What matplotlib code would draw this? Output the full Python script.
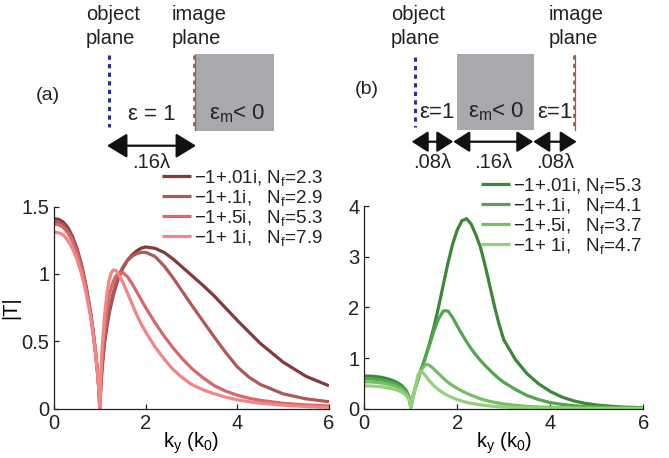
import matplotlib
matplotlib.use("Agg")
import matplotlib.pyplot as plt
from matplotlib.patches import Rectangle

plt.rcParams['font.family'] = ['Liberation Sans', 'DejaVu Sans']
plt.rcParams['mathtext.fontset'] = 'custom'
plt.rcParams['mathtext.rm'] = 'Liberation Sans'
plt.rcParams['mathtext.it'] = 'Liberation Sans:italic'
plt.rcParams['mathtext.bf'] = 'Liberation Sans:bold'

# ---------------- data ----------------
ky_a = [0, 0.1, 0.2, 0.3, 0.4, 0.5, 0.6, 0.7, 0.8, 0.85, 0.9, 0.95, 0.98, 1.0,
        1.02, 1.05, 1.1, 1.15, 1.2, 1.25, 1.3, 1.35, 1.4, 1.5, 1.6, 1.7, 1.8, 1.9,
        2.0, 2.2, 2.4, 2.6, 2.8, 3.0, 3.25, 3.5, 3.75, 4.0, 4.25, 4.5, 5.0, 5.5, 6.0]
T_a_001 = [1.41, 1.405, 1.385, 1.345, 1.28, 1.19, 1.07, 0.91, 0.71, 0.585, 0.44, 0.27, 0.14, 0.0,
           0.15, 0.30, 0.48, 0.60, 0.70, 0.78, 0.85, 0.91, 0.96, 1.04, 1.10, 1.14, 1.17, 1.19,
           1.20, 1.19, 1.16, 1.11, 1.05, 0.99, 0.915, 0.835, 0.745, 0.655, 0.57, 0.485,
           0.345, 0.24, 0.17]
T_a_01 = [1.39, 1.385, 1.365, 1.325, 1.265, 1.175, 1.055, 0.90, 0.705, 0.58, 0.44, 0.27, 0.14, 0.0,
          0.16, 0.32, 0.50, 0.62, 0.72, 0.80, 0.87, 0.93, 0.98, 1.05, 1.10, 1.13, 1.15, 1.16,
          1.16, 1.13, 1.06, 0.97, 0.87, 0.77, 0.65, 0.53, 0.415, 0.31, 0.235, 0.18,
          0.11, 0.073, 0.052]
T_a_05 = [1.37, 1.365, 1.345, 1.305, 1.245, 1.16, 1.045, 0.89, 0.70, 0.575, 0.435, 0.27, 0.14, 0.0,
          0.20, 0.38, 0.58, 0.72, 0.83, 0.90, 0.95, 0.985, 1.00, 1.01, 0.98, 0.93, 0.87, 0.81,
          0.75, 0.64, 0.54, 0.45, 0.37, 0.30, 0.23, 0.17, 0.13, 0.10, 0.078, 0.062,
          0.04, 0.028, 0.02]
T_a_1 = [1.31, 1.305, 1.29, 1.25, 1.19, 1.11, 1.00, 0.86, 0.68, 0.56, 0.43, 0.26, 0.14, 0.0,
         0.25, 0.45, 0.68, 0.84, 0.95, 1.01, 1.03, 1.025, 1.00, 0.94, 0.86, 0.78, 0.70, 0.63,
         0.57, 0.46, 0.37, 0.29, 0.23, 0.18, 0.14, 0.11, 0.085, 0.066, 0.052, 0.041,
         0.026, 0.016, 0.01]

ky_b = [0, 0.1, 0.2, 0.3, 0.4, 0.5, 0.6, 0.7, 0.8, 0.9, 0.95, 0.98, 1.0,
        1.02, 1.05, 1.1, 1.15, 1.2, 1.25, 1.3, 1.35, 1.4, 1.5, 1.6, 1.7, 1.8, 1.9,
        2.0, 2.1, 2.2, 2.3, 2.4, 2.5, 2.6, 2.7, 2.8, 2.9, 3.0, 3.25, 3.5, 3.75,
        4.0, 4.25, 4.5, 4.75, 5.0, 5.5, 6.0]
T_b_001 = [0.645, 0.643, 0.638, 0.628, 0.612, 0.59, 0.56, 0.52, 0.46, 0.36, 0.26, 0.15, 0.03,
           0.12, 0.25, 0.42, 0.57, 0.72, 0.84, 0.98, 1.13, 1.28, 1.62, 2.02, 2.45, 2.88, 3.25,
           3.53, 3.71, 3.75, 3.64, 3.43, 3.18, 2.82, 2.42, 2.02, 1.66, 1.36, 0.97, 0.69, 0.49,
           0.34, 0.23, 0.155, 0.105, 0.072, 0.035, 0.02]
T_b_01 = [0.59, 0.588, 0.583, 0.574, 0.56, 0.54, 0.513, 0.477, 0.425, 0.335, 0.245, 0.145, 0.03,
          0.12, 0.25, 0.42, 0.57, 0.72, 0.84, 0.97, 1.11, 1.25, 1.54, 1.78, 1.93, 1.93, 1.80,
          1.63, 1.47, 1.32, 1.18, 1.06, 0.95, 0.85, 0.76, 0.67, 0.59, 0.52, 0.38, 0.26, 0.18,
          0.12, 0.085, 0.06, 0.043, 0.033, 0.02, 0.015]
T_b_05 = [0.53, 0.528, 0.524, 0.516, 0.503, 0.486, 0.462, 0.43, 0.385, 0.305, 0.225, 0.135, 0.03,
          0.12, 0.25, 0.42, 0.58, 0.71, 0.80, 0.86, 0.875, 0.86, 0.78, 0.69, 0.60, 0.52, 0.455,
          0.40, 0.35, 0.305, 0.265, 0.23, 0.195, 0.17, 0.145, 0.125, 0.108, 0.093, 0.065, 0.045, 0.033,
          0.025, 0.019, 0.015, 0.012, 0.01, 0.008, 0.006]
T_b_1 = [0.45, 0.449, 0.445, 0.438, 0.428, 0.414, 0.394, 0.368, 0.33, 0.265, 0.20, 0.125, 0.03,
         0.12, 0.25, 0.42, 0.65, 0.74, 0.72, 0.67, 0.61, 0.55, 0.45, 0.37, 0.31, 0.26, 0.215,
         0.18, 0.15, 0.125, 0.105, 0.09, 0.075, 0.063, 0.053, 0.045, 0.038, 0.032, 0.022, 0.015, 0.011,
         0.008, 0.007, 0.006, 0.0055, 0.005, 0.004, 0.003]

labels_a = ["\u22121+.01i, N$_\\mathregular{f}$=2.3",
            "\u22121+.1i,   N$_\\mathregular{f}$=2.9",
            "\u22121+.5i,   N$_\\mathregular{f}$=5.3",
            "\u22121+ 1i,   N$_\\mathregular{f}$=7.9"]
labels_b = ["\u22121+.01i, N$_\\mathregular{f}$=5.3",
            "\u22121+.1i,   N$_\\mathregular{f}$=4.1",
            "\u22121+.5i,   N$_\\mathregular{f}$=3.7",
            "\u22121+ 1i,   N$_\\mathregular{f}$=4.7"]
colors_a = ["#86393A", "#B05858", "#D86868", "#F38585"]
colors_b = ["#3A883A", "#52A64E", "#74BF62", "#94D27A"]

xticks = [0, 2, 4, 6]
yticks_a = [0, 0.5, 1, 1.5]
yticks_a_lbl = ["0", "0.5", "1", "1.5"]
yticks_b = [0, 1, 2, 3, 4]

# ---------------- figure ----------------
W, H = 669, 458
fig = plt.figure(figsize=(W / 100, H / 100), dpi=100)

def fx(px):
    return px / W

def fy(py):
    return 1 - py / H

axA = fig.add_axes([fx(54), fy(408.7), fx(329) - fx(54), fy(206.5) - fy(408.7)])
axB = fig.add_axes([fx(364.3), fy(408.7), fx(643.3) - fx(364.3), fy(206) - fy(408.7)])

def style(ax):
    for s in ['top', 'right']:
        ax.spines[s].set_visible(False)
    for s in ['left', 'bottom']:
        ax.spines[s].set_linewidth(0.9)
        ax.spines[s].set_color('#222222')
    ax.tick_params(direction='in', length=3.5, width=0.9, labelsize=14.5,
                   colors='#222222', pad=3.5)
    ax.set_xlim(0, 6)
    ax.set_xticks(xticks)
    ax.set_xticklabels([str(t) for t in xticks])
    ax.patch.set_visible(False)

lw = 2.3
for T, c, lab in zip([T_a_001, T_a_01, T_a_05, T_a_1], colors_a, labels_a):
    axA.plot(ky_a, T, color=c, lw=lw, label=lab, solid_capstyle='butt',
             solid_joinstyle='round')
for T, c, lab in zip([T_b_001, T_b_01, T_b_05, T_b_1], colors_b, labels_b):
    axB.plot(ky_b, T, color=c, lw=lw, label=lab, solid_capstyle='butt',
             solid_joinstyle='round')

style(axA)
style(axB)
axA.set_ylim(0, 1.5)
axA.set_yticks(yticks_a)
axA.set_yticklabels(yticks_a_lbl)
axB.set_ylim(0, 4)
axB.set_yticks(yticks_b)
axB.set_yticklabels([str(t) for t in yticks_b])

xl = "k$_\\mathregular{y}$ (k$_\\mathregular{0}$)"
axA.set_xlabel(xl, fontsize=14.5, labelpad=-1.5)
axB.set_xlabel(xl, fontsize=14.5, labelpad=-1.5)
axA.set_ylabel("|T|", fontsize=14.5, labelpad=1)

leg_kw = dict(frameon=False, fontsize=13.5, handlelength=1.55, handletextpad=0.15,
              labelspacing=0.0, borderpad=0, borderaxespad=0, loc='upper left')
legA = axA.legend(bbox_to_anchor=(fx(162), fy(168)), bbox_transform=fig.transFigure, **leg_kw)
legB = axB.legend(bbox_to_anchor=(fx(481), fy(175.5)), bbox_transform=fig.transFigure, **leg_kw)
for leg in (legA, legB):
    for t in leg.get_texts():
        t.set_color('#222222')
    for h in leg.get_lines():
        h.set_linewidth(2.3)

# ---------------- schematics ----------------
ov = fig.add_axes([0, 0, 1, 1])
ov.set_xlim(0, W)
ov.set_ylim(H, 0)
ov.axis('off')
ov.patch.set_visible(False)

tc = '#222222'
fs = 14.5
fe = 16
# panel (a)
ov.text(86, 14, "object", fontsize=fs, color=tc, ha='left', va='center')
ov.text(86, 39, "plane", fontsize=fs, color=tc, ha='left', va='center')
ov.text(172, 14, "image", fontsize=fs, color=tc, ha='left', va='center')
ov.text(172, 39, "plane", fontsize=fs, color=tc, ha='left', va='center')
ov.text(36, 96, "(a)", fontsize=14, color=tc, ha='left', va='center')
ov.add_patch(Rectangle((195, 54), 79, 77, facecolor='#A7A9AC', edgecolor='none'))
ov.plot([109.3, 109.3], [55, 127], color='#2B2E9E', lw=2.2, ls=(0, (1.4, 1.4)))
ov.plot([194.5, 194.5], [55, 130], color='#E8322A', lw=0.9)
ov.plot([193.7, 193.7], [55, 130], color='#8A6A48', lw=2.0, ls=(0, (1.5, 1.5)))
ov.text(152, 114, "\u03b5 = 1", fontsize=fe, color=tc, ha='center', va='center')
ov.text(237, 114, "\u03b5$_\\mathregular{m}$< 0", fontsize=fe, color=tc, ha='center', va='center')
ov.annotate("", xy=(107, 145.7), xytext=(196, 145.7),
            arrowprops=dict(arrowstyle="<|-|>,head_length=0.62,head_width=0.38",
                            mutation_scale=20, lw=1.6, color='#111111',
                            shrinkA=0, shrinkB=0))
ov.text(151, 163, ".16\u03bb", fontsize=fs, color=tc, ha='center', va='center')

# panel (b)
ov.text(391, 14, "object", fontsize=fs, color=tc, ha='left', va='center')
ov.text(391, 39, "plane", fontsize=fs, color=tc, ha='left', va='center')
ov.text(549, 14, "image", fontsize=fs, color=tc, ha='left', va='center')
ov.text(549, 39, "plane", fontsize=fs, color=tc, ha='left', va='center')
ov.text(355, 89, "(b)", fontsize=14, color=tc, ha='left', va='center')
ov.add_patch(Rectangle((456.7, 54), 77.6, 76, facecolor='#A7A9AC', edgecolor='none'))
ov.plot([415, 415], [57, 127], color='#2B2E9E', lw=2.2, ls=(0, (1.4, 1.4)))
ov.plot([575, 575], [55, 130], color='#E8322A', lw=0.9)
ov.plot([574.3, 574.3], [55, 130], color='#8A6A48', lw=2.0, ls=(0, (1.5, 1.5)))
ov.text(436.5, 112, "\u03b5=1", fontsize=fe, color=tc, ha='center', va='center')
ov.text(496, 112, "\u03b5$_\\mathregular{m}$< 0", fontsize=fe, color=tc, ha='center', va='center')
ov.text(555, 112, "\u03b5=1", fontsize=fe, color=tc, ha='center', va='center')
for xa, xb in [(411.7, 453.3), (453.3, 533.3), (533.3, 576.7)]:
    ov.annotate("", xy=(xa, 141.7), xytext=(xb, 141.7),
                arrowprops=dict(arrowstyle="<|-|>,head_length=0.5,head_width=0.32",
                                mutation_scale=20, lw=1.6, color='#111111',
                                shrinkA=0, shrinkB=0))
ov.text(432.5, 162, ".08\u03bb", fontsize=fs, color=tc, ha='center', va='center')
ov.text(493, 162, ".16\u03bb", fontsize=fs, color=tc, ha='center', va='center')
ov.text(555, 162, ".08\u03bb", fontsize=fs, color=tc, ha='center', va='center')

fig.savefig("out.png", dpi=100)
